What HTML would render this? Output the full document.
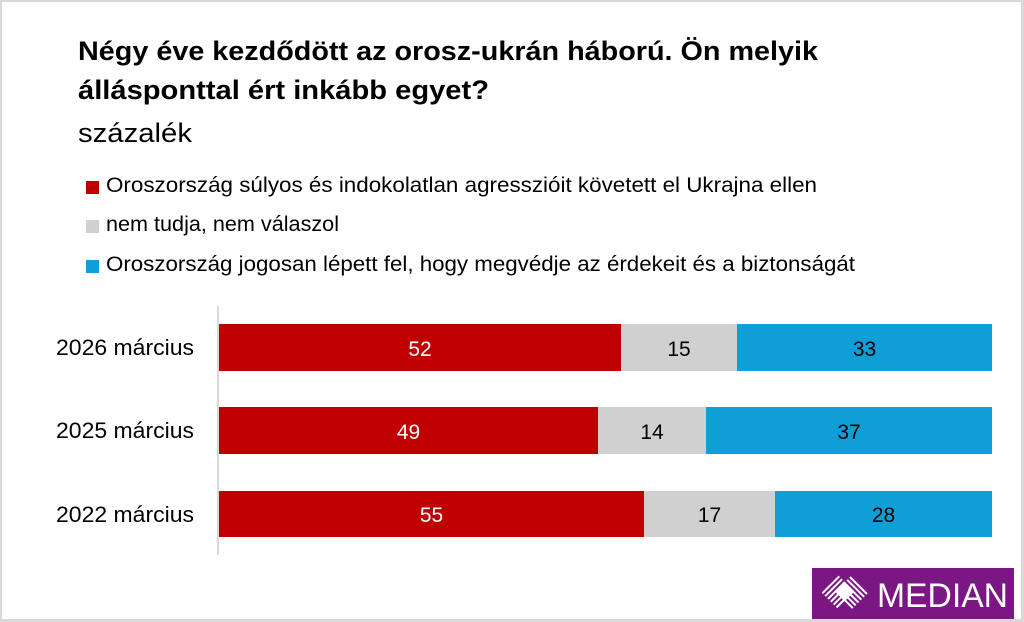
<!DOCTYPE html>
<html>
<head>
<meta charset="utf-8">
<style>
  html,body{margin:0;padding:0;background:#d9d9d9;}
  svg{display:block;}
  text{font-family:"Liberation Sans", Arial, sans-serif;}
</style>
</head>
<body>
<svg width="1024" height="622" viewBox="0 0 1024 622" xmlns="http://www.w3.org/2000/svg">
  <defs>
    <pattern id="stripeA" width="4" height="4" patternUnits="userSpaceOnUse" patternTransform="rotate(45)">
      <rect x="0" y="0" width="2" height="4" fill="#ffffff"/>
    </pattern>
    <pattern id="stripeB" width="4" height="4" patternUnits="userSpaceOnUse" patternTransform="rotate(-45)">
      <rect x="0" y="0" width="2" height="4" fill="#ffffff"/>
    </pattern>
  </defs>
  <rect x="0" y="0" width="1024" height="622" fill="#d9d9d9"/>
  <rect x="2" y="2" width="1019" height="617" fill="#ffffff"/>

  <!-- Title -->
  <text x="78" y="60" font-size="27" font-weight="bold" fill="#000" textLength="740" lengthAdjust="spacingAndGlyphs">Négy éve kezdődött az orosz-ukrán háború. Ön melyik</text>
  <text x="78" y="99" font-size="27" font-weight="bold" fill="#000" textLength="411" lengthAdjust="spacingAndGlyphs">állásponttal ért inkább egyet?</text>
  <text x="78" y="142" font-size="27" fill="#000" textLength="114" lengthAdjust="spacingAndGlyphs">százalék</text>

  <!-- Legend -->
  <rect x="86" y="181" width="13" height="13" fill="#C00000"/>
  <text x="106" y="192" font-size="21" fill="#000" textLength="711" lengthAdjust="spacingAndGlyphs">Oroszország súlyos és indokolatlan agresszióit követett el Ukrajna ellen</text>
  <rect x="86" y="220" width="13" height="13" fill="#D0D0D0"/>
  <text x="106" y="231" font-size="21" fill="#000" textLength="233" lengthAdjust="spacingAndGlyphs">nem tudja, nem válaszol</text>
  <rect x="86" y="260" width="13" height="13" fill="#0F9ED5"/>
  <text x="106" y="271" font-size="21" fill="#000" textLength="749" lengthAdjust="spacingAndGlyphs">Oroszország jogosan lépett fel, hogy megvédje az érdekeit és a biztonságát</text>

  <!-- Axis -->
  <rect x="217" y="306" width="2" height="249" fill="#d9d9d9"/>

  <!-- Category labels -->
  <text x="194" y="355" font-size="22" fill="#000" text-anchor="end" textLength="138" lengthAdjust="spacingAndGlyphs">2026 március</text>
  <text x="194" y="438" font-size="22" fill="#000" text-anchor="end" textLength="138" lengthAdjust="spacingAndGlyphs">2025 március</text>
  <text x="194" y="522" font-size="22" fill="#000" text-anchor="end" textLength="138" lengthAdjust="spacingAndGlyphs">2022 március</text>

  <!-- 2026 -->
  <rect x="219" y="324" width="402" height="47" fill="#C00000"/>
  <rect x="621" y="324" width="116" height="47" fill="#D0D0D0"/>
  <rect x="737" y="324" width="255" height="47" fill="#0F9ED5"/>
  <text x="420" y="356" font-size="21" fill="#fff" text-anchor="middle">52</text>
  <text x="679" y="356" font-size="21" fill="#000" text-anchor="middle">15</text>
  <text x="864.5" y="356" font-size="21" fill="#000" text-anchor="middle">33</text>

  <!-- 2025 -->
  <rect x="219" y="407" width="379" height="47" fill="#C00000"/>
  <rect x="598" y="407" width="108" height="47" fill="#D0D0D0"/>
  <rect x="706" y="407" width="286" height="47" fill="#0F9ED5"/>
  <text x="408.5" y="439" font-size="21" fill="#fff" text-anchor="middle">49</text>
  <text x="652" y="439" font-size="21" fill="#000" text-anchor="middle">14</text>
  <text x="849" y="439" font-size="21" fill="#000" text-anchor="middle">37</text>

  <!-- 2022 -->
  <rect x="219" y="491" width="425" height="46" fill="#C00000"/>
  <rect x="644" y="491" width="131" height="46" fill="#D0D0D0"/>
  <rect x="775" y="491" width="217" height="46" fill="#0F9ED5"/>
  <text x="431.5" y="522" font-size="21" fill="#fff" text-anchor="middle">55</text>
  <text x="709.5" y="522" font-size="21" fill="#000" text-anchor="middle">17</text>
  <text x="883.5" y="522" font-size="21" fill="#000" text-anchor="middle">28</text>

  <!-- Logo -->
  <rect x="812" y="568" width="202" height="51" fill="#7A1782"/>
  <polygon points="838,575 855,592 838,609 821,592" fill="url(#stripeA)"/>
  <polygon points="852,575 869,592 852,609 835,592" fill="url(#stripeB)"/>
  <polygon points="845,583 854,592 845,601 836,592" fill="#ffffff"/>
  <text x="877" y="607" font-size="34" fill="#fff" textLength="131" lengthAdjust="spacingAndGlyphs">MEDIAN</text>
</svg>
</body>
</html>
